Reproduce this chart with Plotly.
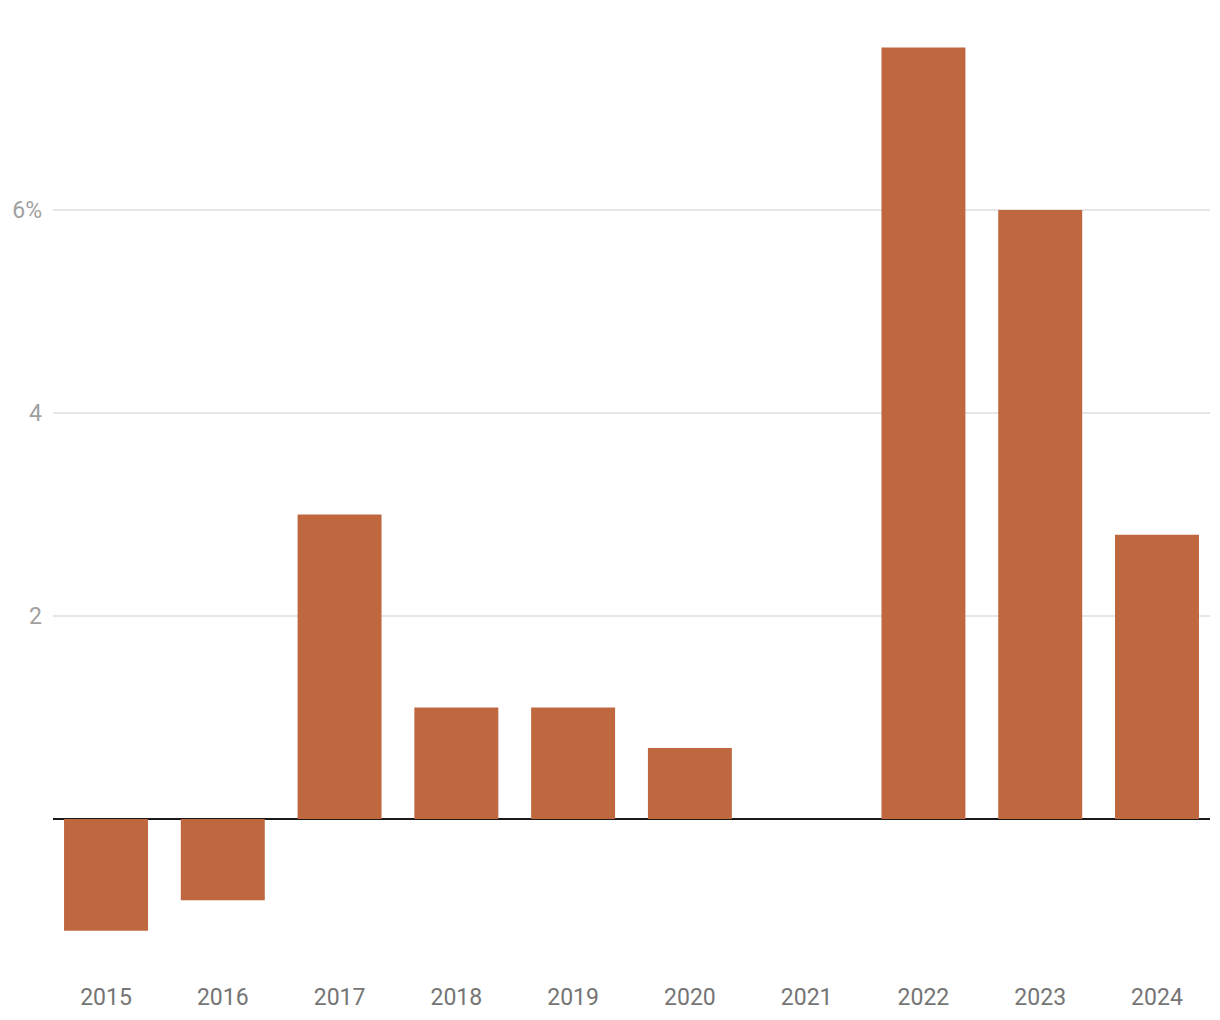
import plotly.graph_objects as go

years = ["2015", "2016", "2017", "2018", "2019", "2020", "2021", "2022", "2023", "2024"]
values = [-1.1, -0.8, 3.0, 1.1, 1.1, 0.7, 0.0, 7.6, 6.0, 2.8]
ytick_vals = [2, 4, 6]
ytick_text = ["2", "4", "6%"]

fig = go.Figure(go.Bar(x=years, y=values, marker=dict(color="#bf683f", line=dict(width=0)),
                       hoverinfo="x+y"))

fig.update_layout(
    width=1220, height=1020,
    margin=dict(l=53, r=10, t=21, b=55),
    paper_bgcolor="white", plot_bgcolor="white",
    bargap=0.281,
    showlegend=False,
    font=dict(family="Roboto", size=23, color="#777777"),
    xaxis=dict(type="category", range=[-0.454, 9.454], showgrid=False, showline=False,
               ticks="", ticklabelstandoff=16, tickfont=dict(size=23, color="#757575")),
    yaxis=dict(range=[-1.438, 7.862], tickvals=ytick_vals, ticktext=ytick_text,
               showgrid=True, gridcolor="#e6e6e6", gridwidth=1.5,
               zeroline=True, zerolinecolor="#1a1a1a", zerolinewidth=2,
               ticks="", ticklabelstandoff=10, tickfont=dict(size=23, color="#a0a0a0"),
               showline=False),
)

fig.write_html("out.html")
